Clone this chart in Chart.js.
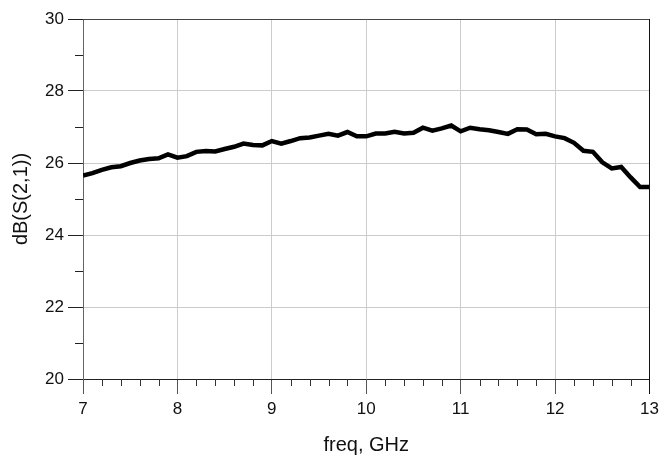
<!DOCTYPE html>
<html>
<head>
<meta charset="utf-8">
<script src="https://cdn.jsdelivr.net/npm/chart.js@4/dist/chart.umd.min.js"></script>
<style>
html,body{margin:0;padding:0;background:#fff;}
#wrap{width:664px;height:457px;position:relative;}
</style>
</head>
<body>
<div id="wrap"><canvas id="c" width="664" height="457"></canvas></div>
<script>
// frequency, GHz
const freq = [7.0,7.1,7.2,7.3,7.4,7.5,7.6,7.7,7.8,7.9,
              8.0,8.1,8.2,8.3,8.4,8.5,8.6,8.7,8.8,8.9,
              9.0,9.1,9.2,9.3,9.4,9.5,9.6,9.7,9.8,9.9,
              10.0,10.1,10.2,10.3,10.4,10.5,10.6,10.7,10.8,10.9,
              11.0,11.1,11.2,11.3,11.4,11.5,11.6,11.7,11.8,11.9,
              12.0,12.1,12.2,12.3,12.4,12.5,12.6,12.7,12.8,12.9,13.0];
// dB(S(2,1))
const s21 = [25.65,25.72,25.81,25.88,25.91,26.00,26.07,26.11,26.13,26.24,
             26.15,26.19,26.31,26.33,26.32,26.39,26.45,26.54,26.50,26.49,
             26.61,26.54,26.61,26.69,26.71,26.76,26.81,26.76,26.86,26.74,
             26.74,26.82,26.82,26.87,26.82,26.84,26.98,26.90,26.96,27.04,
             26.88,26.98,26.94,26.91,26.86,26.81,26.94,26.93,26.80,26.81,
             26.74,26.69,26.56,26.34,26.31,26.02,25.85,25.89,25.60,25.33,25.33];
const xMin = 7, xMax = 13, xStep = 1, xMinorStep = 0.2;
const yMin = 20, yMax = 30, yStep = 2, yMinorStep = 1;
const xTitle = 'freq, GHz';
const yTitle = 'dB(S(2,1))';

const FONT = "'Liberation Sans', Arial, sans-serif";

const frameAndMinor = {
  id: 'frameAndMinor',
  afterDraw(chart) {
    const {ctx, chartArea: a, scales} = chart;
    const xs = scales.x, ys = scales.y;
    ctx.save();
    ctx.lineWidth = 1;
    // top and right frame
    ctx.strokeStyle = '#444';
    ctx.beginPath();
    ctx.moveTo(a.left, Math.round(a.top) + 0.5);
    ctx.lineTo(a.right, Math.round(a.top) + 0.5);
    ctx.stroke();
    ctx.strokeStyle = '#111';
    ctx.beginPath();
    ctx.moveTo(Math.round(a.right) - 0.5, a.top);
    ctx.lineTo(Math.round(a.right) - 0.5, a.bottom + 15);
    ctx.stroke();
    // minor y ticks
    ctx.strokeStyle = '#222';
    for (let v = yMin; v <= yMax + 1e-9; v += yMinorStep) {
      if (Math.abs(v / yStep - Math.round(v / yStep)) < 1e-6) continue;
      const y = Math.round(ys.getPixelForValue(v)) + 0.5;
      ctx.beginPath();
      ctx.moveTo(a.left - 8, y);
      ctx.lineTo(a.left, y);
      ctx.stroke();
    }
    // minor x ticks
    ctx.strokeStyle = '#333';
    const n = Math.round((xMax - xMin) / xMinorStep);
    for (let i = 0; i <= n; i++) {
      const v = xMin + i * xMinorStep;
      if (Math.abs(v / xStep - Math.round(v / xStep)) < 1e-6) continue;
      const x = Math.round(xs.getPixelForValue(v)) + 0.5;
      ctx.beginPath();
      ctx.moveTo(x, a.bottom);
      ctx.lineTo(x, a.bottom + 7);
      ctx.stroke();
    }
    ctx.restore();
  }
};

new Chart(document.getElementById('c'), {
  type: 'line',
  data: {
    datasets: [{
      data: freq.map((f, i) => ({x: f, y: s21[i]})),
      borderColor: '#000',
      borderWidth: 4.5,
      pointRadius: 0,
      tension: 0,
      fill: false,
      borderJoinStyle: 'miter'
    }]
  },
  options: {
    responsive: false,
    animation: false,
    events: [],
    layout: {padding: {top: 19, right: 12, left: 0, bottom: 0}},
    plugins: {legend: {display: false}, tooltip: {enabled: false}},
    scales: {
      x: {
        type: 'linear', min: xMin, max: xMax,
        afterFit(s) { s.height = 78; },
        ticks: {stepSize: xStep, color: '#111', font: {family: FONT, size: 17}, padding: 5, maxRotation: 0,
                callback: v => String(v)},
        grid: {
          color: c => (c.tick && (c.tick.value === xMin || c.tick.value === xMax)) ? 'rgba(0,0,0,0)' : '#cccccc',
          tickColor: '#555', tickLength: 15, lineWidth: 1
        },
        border: {display: true, color: '#222', width: 1},
        title: {display: true, text: xTitle, color: '#111', font: {family: FONT, size: 20}, padding: {top: 0, bottom: 0}}
      },
      y: {
        type: 'linear', min: yMin, max: yMax,
        afterFit(s) { s.width = 83; },
        ticks: {stepSize: yStep, color: '#111', font: {family: FONT, size: 17}, padding: 4,
                callback: v => String(v)},
        grid: {
          color: c => (c.tick && (c.tick.value === yMin || c.tick.value === yMax)) ? 'rgba(0,0,0,0)' : '#cccccc',
          tickColor: '#222', tickLength: 15, lineWidth: 1
        },
        border: {display: true, color: '#666', width: 1},
        title: {display: true, text: yTitle, color: '#111', font: {family: FONT, size: 20}, padding: {top: 9, bottom: 0}}
      }
    }
  },
  plugins: [frameAndMinor]
});
</script>
</body>
</html>
